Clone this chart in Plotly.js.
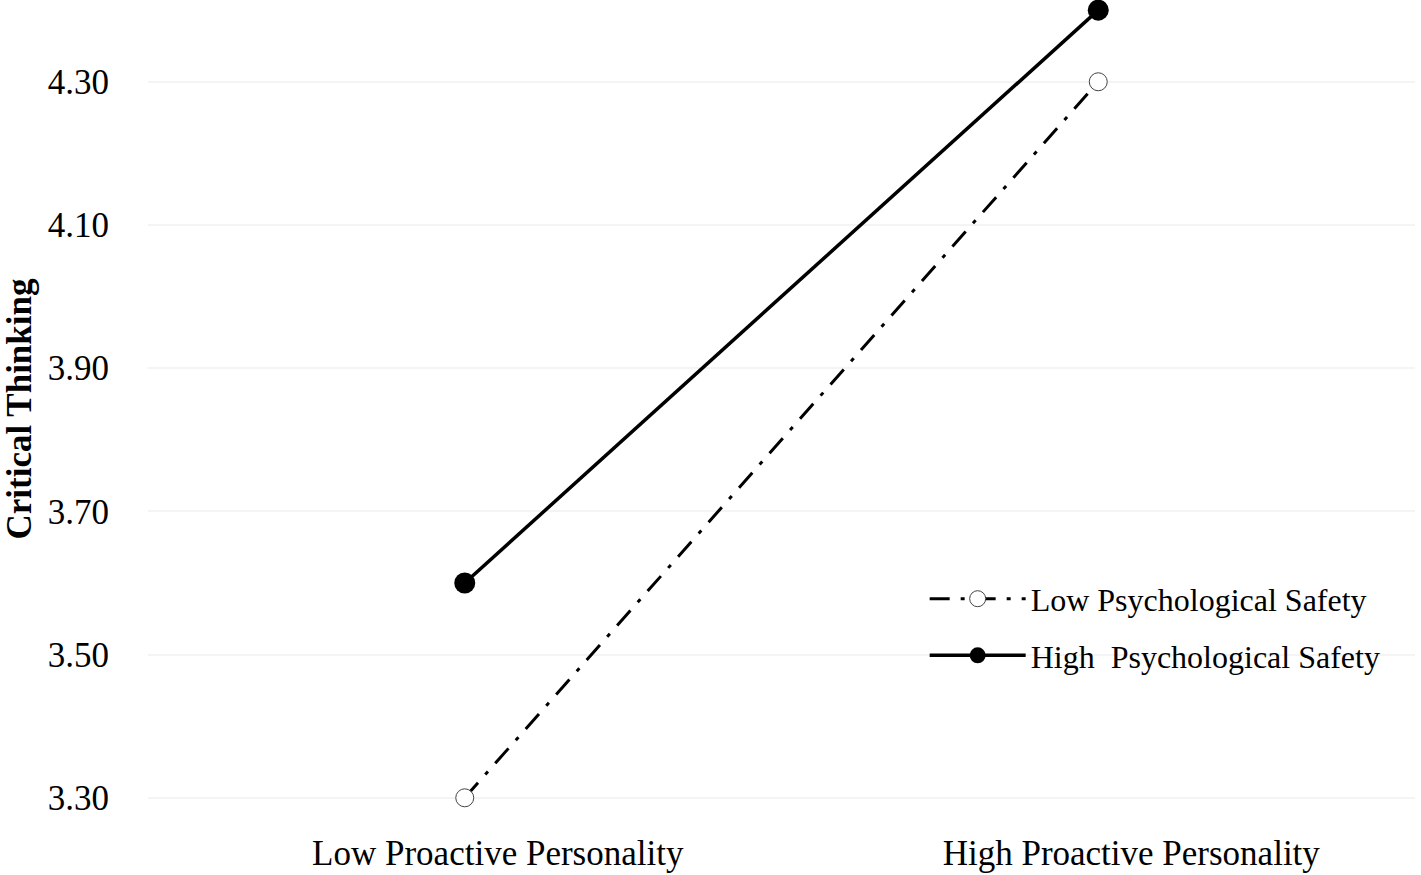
<!DOCTYPE html>
<html>
<head>
<meta charset="utf-8">
<script src="https://cdn.plot.ly/plotly-3.0.1.min.js"></script>
<style>
  body { margin: 0; background: #fff; }
  #chart { width: 1421px; height: 875px; }
</style>
</head>
<body>
<div id="chart"></div>
<script>
var categories = ['Low Proactive Personality', 'High Proactive Personality'];
var lowSafety = [3.30, 4.30];
var highSafety = [3.60, 4.40];
var seriesNames = ['Low Psychological Safety', 'High  Psychological Safety'];

var serif = 'Liberation Serif, Times New Roman, serif';

var traceLow = {
    x: categories,
    y: lowSafety,
    name: seriesNames[0],
    type: 'scatter',
    mode: 'lines+markers',
    cliponaxis: false,
    legendgroup: 'low',
    line: { color: '#000', width: 3, dash: '20px,11px,4px,11px' },
    marker: { symbol: 'circle', size: 18, color: '#fff', line: { color: '#444', width: 1 } }
};

var traceHigh = {
    x: categories,
    y: highSafety,
    name: seriesNames[1],
    type: 'scatter',
    mode: 'lines+markers',
    cliponaxis: false,
    legendgroup: 'high',
    line: { color: '#000', width: 3.5 },
    marker: { symbol: 'circle', size: 21, color: '#000' }
};

var layout = {
    width: 1421,
    height: 875,
    margin: { l: 148, r: 6, t: 3, b: 60 },
    paper_bgcolor: '#fff',
    plot_bgcolor: '#fff',
    font: { family: serif, color: '#000', size: 35 },
    showlegend: true,
    legend: {
        x: 0.613, xanchor: 'left',
        y: 0.30, yanchor: 'top',
        font: { family: serif, size: 32, color: '#000' },
        traceorder: 'grouped',
        tracegroupgap: 12,
        itemwidth: 96,
        bgcolor: 'rgba(0,0,0,0)'
    },
    xaxis: {
        type: 'category',
        range: [-0.5, 1.5],
        showgrid: false,
        zeroline: false,
        showline: false,
        ticks: '',
        ticklabelshift: 33,
        ticklabelstandoff: 14,
        tickfont: { family: serif, size: 35, color: '#000' }
    },
    yaxis: {
        range: [3.276, 4.41],
        tick0: 3.3,
        dtick: 0.2,
        tickformat: '.2f',
        showgrid: true,
        gridcolor: '#f4f4f4',
        gridwidth: 2,
        zeroline: false,
        showline: false,
        ticks: '',
        ticklabelstandoff: 38,
        tickfont: { family: serif, size: 35, color: '#000' },
        title: {
            text: '<b>Critical Thinking</b>',
            font: { family: serif, size: 35, color: '#000' },
            standoff: 10
        }
    }
};

Plotly.newPlot('chart', [traceLow, traceHigh], layout, { displayModeBar: false, staticPlot: true });
</script>
</body>
</html>
